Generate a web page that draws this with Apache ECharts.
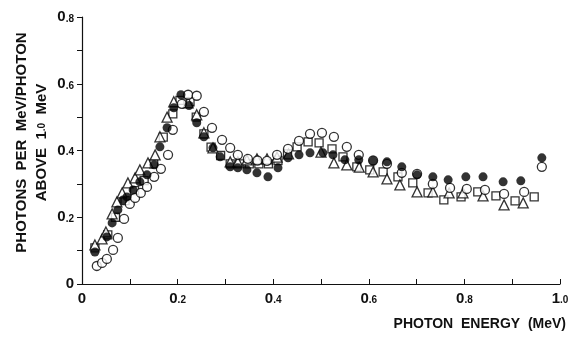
<!DOCTYPE html>
<html><head><meta charset="utf-8">
<script src="https://cdn.jsdelivr.net/npm/echarts@6/dist/echarts.min.js"></script>
<style>html,body{margin:0;padding:0;background:#fff}#c{width:571px;height:337px}</style>
</head><body><div id="c"></div>
<script>
// Filled circles
const filledX = [0.027,0.052,0.063,0.075,0.086,0.094,0.107,0.121,0.136,0.151,0.163,0.178,0.192,0.207,0.224,0.240,0.255,0.274,0.289,0.310,0.326,0.345,0.366,0.389,0.410,0.431,0.454,0.477,0.504,0.525,0.550,0.579,0.609,0.638,0.669,0.701,0.734,0.766,0.803,0.839,0.881,0.918,0.962];
const filledY = [0.096,0.141,0.183,0.222,0.252,0.261,0.282,0.306,0.327,0.357,0.411,0.468,0.528,0.567,0.535,0.483,0.441,0.408,0.381,0.351,0.348,0.342,0.333,0.321,0.348,0.378,0.387,0.393,0.393,0.387,0.372,0.372,0.369,0.366,0.351,0.327,0.321,0.312,0.321,0.321,0.306,0.309,0.378];
// Open circles
const openX = [0.031,0.042,0.052,0.065,0.075,0.088,0.100,0.111,0.123,0.136,0.151,0.165,0.180,0.190,0.209,0.222,0.240,0.255,0.272,0.293,0.310,0.326,0.347,0.367,0.387,0.408,0.431,0.454,0.477,0.502,0.527,0.554,0.579,0.609,0.638,0.669,0.701,0.734,0.770,0.805,0.843,0.883,0.925,0.962];
const openY = [0.054,0.063,0.075,0.102,0.138,0.195,0.240,0.258,0.273,0.291,0.321,0.345,0.387,0.462,0.540,0.567,0.564,0.516,0.468,0.432,0.408,0.387,0.375,0.370,0.369,0.387,0.405,0.429,0.450,0.453,0.441,0.411,0.387,0.370,0.360,0.333,0.330,0.300,0.288,0.285,0.282,0.270,0.276,0.351];
// Open triangles
const triX = [0.027,0.042,0.050,0.063,0.073,0.084,0.096,0.111,0.121,0.138,0.153,0.163,0.178,0.192,0.222,0.240,0.255,0.274,0.310,0.326,0.345,0.366,0.387,0.408,0.432,0.500,0.527,0.554,0.580,0.609,0.638,0.665,0.701,0.734,0.768,0.797,0.839,0.883,0.923];
const triY = [0.117,0.135,0.156,0.210,0.246,0.273,0.303,0.318,0.342,0.363,0.387,0.441,0.500,0.546,0.543,0.507,0.453,0.408,0.366,0.366,0.372,0.375,0.375,0.380,0.390,0.395,0.363,0.357,0.350,0.336,0.315,0.297,0.276,0.276,0.273,0.273,0.264,0.237,0.243];
// Open squares
const sqX = [0.027,0.054,0.070,0.090,0.110,0.130,0.150,0.170,0.190,0.205,0.226,0.239,0.255,0.270,0.290,0.310,0.330,0.350,0.370,0.390,0.410,0.430,0.450,0.473,0.496,0.523,0.546,0.575,0.602,0.630,0.661,0.692,0.724,0.757,0.793,0.828,0.866,0.906,0.946];
const sqY = [0.108,0.147,0.200,0.250,0.280,0.310,0.360,0.440,0.510,0.550,0.546,0.500,0.450,0.410,0.385,0.360,0.360,0.360,0.360,0.360,0.370,0.390,0.411,0.426,0.423,0.405,0.381,0.351,0.342,0.336,0.321,0.303,0.273,0.252,0.261,0.276,0.264,0.249,0.261];

const xTickLabels = ['0','0.2','0.4','0.6','0.8','1.0'];
const yTickLabels = ['0','0.2','0.4','0.6','0.8'];

const zip = (xs, ys) => xs.map((x, i) => [x, ys[i]]);
function fmtTick(list) {
  return function (v) {
    const k = Math.round(v * 10);
    if (k % 2) return '';
    const s = list[k / 2];
    if (!s) return '';
    if (s.indexOf('.') < 0) return '{b|' + s + '}';
    const p = s.split('.');
    return '{b|' + p[0] + '}{s|.' + p[1] + '}';
  };
}
const richTick = {
  b: {fontFamily: 'Liberation Sans', fontWeight: 'bold', fontSize: 15, color: '#111'},
  s: {fontFamily: 'Liberation Sans', fontWeight: 'bold', fontSize: 10, color: '#111', padding: [4, 0, 0, 0]}
};
const txt = {fontFamily: 'Liberation Sans', fontWeight: 'bold', color: '#111'};
const open = {color: '#fff', borderColor: '#000', borderWidth: 1.3};

const chart = echarts.init(document.getElementById('c'), null, {renderer: 'canvas'});
chart.setOption({
  animation: false,
  backgroundColor: '#fff',
  grid: {left: 82, right: 11, top: 17, bottom: 53, containLabel: false, outerBoundsMode: 'none'},
  xAxis: {
    type: 'value', min: 0, max: 1.0, interval: 0.1,
    axisLine: {onZero: false, lineStyle: {color: '#111', width: 1.2}},
    axisTick: {inside: true, length: 5, lineStyle: {color: '#111'}},
    splitLine: {show: false},
    axisLabel: {margin: 7, formatter: fmtTick(xTickLabels), rich: richTick},
    name: 'PHOTON  ENERGY  (MeV)', nameLocation: 'end', nameGap: 6,
    nameTextStyle: Object.assign({}, txt, {fontSize: 14, align: 'right', verticalAlign: 'top', padding: [33, 0, 0, 0]})
  },
  yAxis: {
    type: 'value', min: 0, max: 0.8, interval: 0.1,
    axisLine: {show: true, lineStyle: {color: '#111', width: 1.2}},
    axisTick: {show: true, inside: false, length: 5, lineStyle: {color: '#111'}},
    splitLine: {show: false},
    axisLabel: {margin: 8, formatter: fmtTick(yTickLabels), rich: richTick},
    name: '{a|PHOTONS  PER  MeV/PHOTON}\n{a|ABOVE  1}{s|.0}{a|  MeV}',
    nameLocation: 'middle', nameRotate: 90, nameGap: 30, nameMoveOverlap: false,
    nameTextStyle: {
      rich: {
        a: Object.assign({}, txt, {fontSize: 15, lineHeight: 20}),
        s: Object.assign({}, txt, {fontSize: 10, lineHeight: 20})
      },
      padding: [0, 0, 0, 16]
    }
  },
  series: [
    {type: 'scatter', name: 'squares', symbol: 'rect', symbolSize: 8, itemStyle: open, data: zip(sqX, sqY)},
    {type: 'scatter', name: 'triangles', symbol: 'triangle', symbolSize: 10, itemStyle: open, data: zip(triX, triY)},
    {type: 'scatter', name: 'open circles', symbol: 'circle', symbolSize: 9, itemStyle: open, data: zip(openX, openY)},
    {type: 'scatter', name: 'filled circles', symbol: 'circle', symbolSize: 9, itemStyle: {color: '#000'}, data: zip(filledX, filledY)}
  ]
});
</script>
</body></html>
